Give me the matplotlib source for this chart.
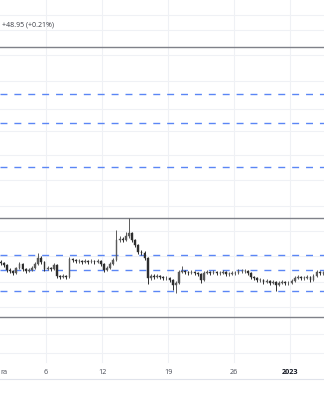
import matplotlib
matplotlib.use("Agg")
import matplotlib.pyplot as plt
import matplotlib.dates as mdates
import matplotlib.transforms as mtransforms
import pandas as pd
import numpy as np

# ---------------- data ----------------
start = "2022-12-01"
n_candles = 104
opens = [17100, 17075, 17025, 16900, 16875, 16825, 16950, 17050, 16925, 16875,
         16900, 16950, 17050, 17200, 17100, 16925, 16950, 16925, 17025, 16750,
         16725, 16750, 16725, 17175, 17150, 17125, 17125, 17100, 17125, 17100,
         17125, 17100, 17125, 17050, 16900, 16950, 17050, 17150, 17650, 17675,
         17650, 17750, 17825, 17650, 17525, 17350, 17325, 17200, 16700, 16750,
         16725, 16750, 16725, 16700, 16700, 16650, 16525, 16575, 16850, 16875,
         16850, 16825, 16850, 16825, 16800, 16650, 16825, 16850, 16825, 16850,
         16825, 16825, 16850, 16800, 16800, 16825, 16825, 16875, 16875, 16875,
         16825, 16725, 16700, 16650, 16650, 16600, 16625, 16575, 16600, 16525,
         16575, 16600, 16575, 16575, 16625, 16700, 16725, 16700, 16700, 16725,
         16650, 16750, 16850, 16825]
closes = [17075, 17025, 16900, 16875, 16825, 16950, 17050, 16925, 16875, 16900,
          16950, 17050, 17200, 17100, 16925, 16950, 16925, 17025, 16750, 16725,
          16750, 16725, 17175, 17150, 17125, 17125, 17100, 17125, 17100, 17125,
          17100, 17125, 17050, 16900, 16950, 17050, 17150, 17650, 17675, 17650,
          17750, 17825, 17650, 17525, 17350, 17325, 17200, 16700, 16750, 16725,
          16750, 16725, 16700, 16700, 16650, 16525, 16575, 16850, 16875, 16850,
          16825, 16850, 16825, 16800, 16650, 16825, 16850, 16825, 16850, 16825,
          16825, 16850, 16800, 16800, 16825, 16825, 16875, 16875, 16875, 16825,
          16725, 16700, 16650, 16650, 16600, 16625, 16575, 16600, 16525, 16575,
          16600, 16575, 16575, 16625, 16700, 16725, 16700, 16700, 16725, 16650,
          16750, 16850, 16825, 16825]
highs = [17150, 17100, 17050, 16950, 16900, 16975, 17100, 17075, 16950, 16950,
         17000, 17100, 17325, 17250, 17125, 17000, 16975, 17075, 17050, 16775,
         16800, 16775, 17225, 17200, 17175, 17175, 17150, 17175, 17150, 17175,
         17150, 17175, 17150, 17075, 17000, 17100, 17200, 17900, 17750, 17725,
         17850, 18200, 17850, 17675, 17550, 17400, 17375, 17225, 16800, 16800,
         16800, 16775, 16750, 16750, 16725, 16675, 16625, 16900, 17000, 16900,
         16875, 16900, 16875, 16850, 16825, 16875, 16900, 16875, 16900, 16875,
         16875, 16900, 16875, 16850, 16875, 16875, 16925, 16925, 16925, 16900,
         16850, 16750, 16725, 16700, 16675, 16675, 16650, 16650, 16625, 16625,
         16650, 16625, 16625, 16675, 16750, 16775, 16750, 16750, 16775, 16750,
         16800, 16900, 16875, 16875]
lows = [17025, 16975, 16850, 16825, 16775, 16800, 16925, 16875, 16825, 16850,
        16875, 16925, 17025, 17050, 16875, 16900, 16875, 16900, 16700, 16675,
        16700, 16675, 16700, 17100, 17075, 17075, 17050, 17075, 17050, 17075,
        17050, 17075, 17000, 16850, 16875, 16925, 17025, 17125, 17600, 17600,
        17625, 17700, 17600, 17475, 17300, 17275, 17150, 16550, 16650, 16675,
        16700, 16675, 16650, 16650, 16600, 16400, 16325, 16550, 16825, 16800,
        16775, 16800, 16775, 16750, 16575, 16625, 16800, 16775, 16800, 16775,
        16775, 16800, 16750, 16750, 16775, 16775, 16800, 16825, 16825, 16775,
        16675, 16650, 16600, 16600, 16550, 16575, 16525, 16550, 16375, 16500,
        16550, 16525, 16525, 16550, 16600, 16675, 16650, 16650, 16675, 16600,
        16625, 16725, 16775, 16775]

solid_levels = [22475, 18200, 15725]
dashed_levels = [21300, 20575, 19475, 17275, 16900, 16375]
grid_levels = [23275, 22900, 22275, 21625, 20925, 20375, 19775, 19150,
               18500, 17875, 17250, 16600, 15975, 15300, 14825]
tick_dates = ["2022-12-06", "2022-12-12", "2022-12-19", "2022-12-26", "2023-01-01"]
tick_labels = ["6", "12", "19", "26", "2023"]
partial_month_label = "ra"
legend_text = "+48.95 (+0.21%)"

# ---------------- figure ----------------
W, H, DPI = 324, 400, 100
fig = plt.figure(figsize=(W / DPI, H / DPI), dpi=DPI)
fig.patch.set_facecolor("white")
ax = fig.add_axes([0, 0, 1, 1])
ax.set_axis_off()

base = mdates.date2num(pd.Timestamp(start))
ax.set_xlim(base + 0.098, base + 34.62)
ax.set_ylim(13650, 23650)

grid_c = "#eff1f5"
plot_bottom = (H - 362) / H
for g in grid_levels:
    ax.axhline(g, color=grid_c, lw=0.8, zorder=0)
for d in tick_dates:
    ax.axvline(mdates.date2num(pd.Timestamp(d)), ymin=plot_bottom, ymax=1,
               color=grid_c, lw=0.8, zorder=0)

for lv in solid_levels:
    ax.axhline(lv, color="#7f8189", lw=1.0, zorder=2)
for lv in dashed_levels:
    ax.axhline(lv, color="#5b86f5", lw=1.0, ls=(0, (5, 5)), zorder=2)

# candles
times = pd.date_range(start, periods=n_candles, freq="8h")
xc = mdates.date2num(times) + 1 / 6
o = np.array(opens, float)
c = np.array(closes, float)
hi = np.array(highs, float)
lo = np.array(lows, float)
up = c >= o
cols = np.where(up, "#5a5a5a", "#2e2e2e")
ax.vlines(xc, lo, hi, colors=cols, lw=0.7, zorder=3)
ax.bar(xc, np.maximum(np.abs(c - o), 10), bottom=np.minimum(o, c), width=0.18,
       color=cols, edgecolor=cols, lw=0.3, zorder=4)

# time axis
ax.axhline(13650 + (H - 379) * 25, color="#e0e3eb", lw=0.8, zorder=2)
trans = mtransforms.blended_transform_factory(ax.transData, ax.transAxes)
ylab = (H - 372) / H
for d, lab in zip(tick_dates, tick_labels):
    ax.text(mdates.date2num(pd.Timestamp(d)), ylab, lab, transform=trans,
            ha="center", va="center", fontsize=5.2, family="Open Sans",
            color="#131722" if lab == "2023" else "#4a4d57",
            fontweight="bold" if lab == "2023" else "normal")
fig.text(0.0, ylab, partial_month_label, ha="left", va="center", fontsize=5.2,
         family="Open Sans", color="#4a4d57")

fig.text(2 / W, 1 - 25 / H, legend_text, ha="left", va="center", fontsize=5.0,
         family="Open Sans", color="#3a3d45")

fig.savefig("out.png", dpi=DPI, facecolor="white")
